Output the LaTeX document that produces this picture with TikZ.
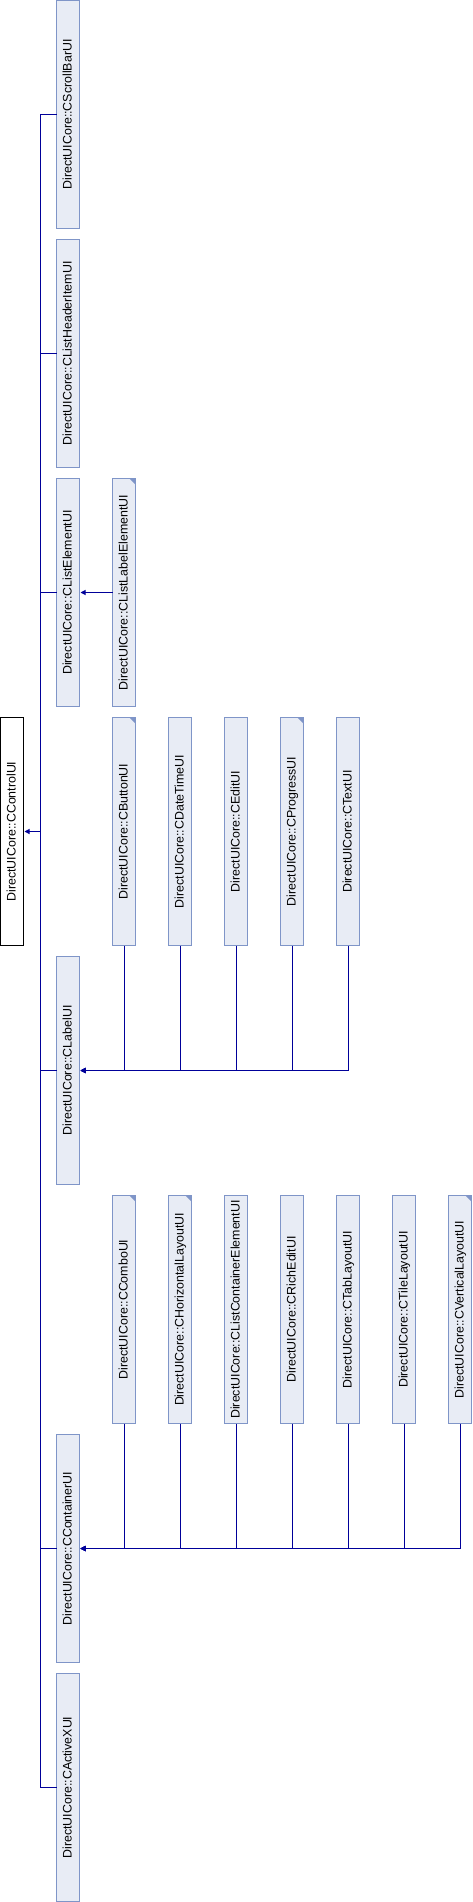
\documentclass[tikz,border=0pt]{standalone}
\usepackage{fontspec}
\setmainfont{Liberation Sans}
\usetikzlibrary{arrows.meta}
\definecolor{bcol}{HTML}{7F95C8}
\definecolor{fcol}{HTML}{E8ECF5}
\definecolor{lcol}{HTML}{000099}
\newcommand{\clsname}[1]{\rotatebox{90}{\raisebox{0pt}[9pt][1.6pt]{#1}}}
\begin{document}
\begin{tikzpicture}[x=1pt,y=-1pt,
  cbox/.style={draw=bcol, fill=fcol, line width=1pt, inner sep=0pt, outer sep=0pt,
    minimum width=23pt, minimum height=228pt, anchor=north west,
    font=\fontsize{12.4}{14}\selectfont},
  rootbox/.style={cbox, draw=black, fill=white},
  marked/.style={path picture={\fill[bcol] (path picture bounding box.north east) -- ++(-6pt,0pt) -- ++(6pt,-6pt) -- cycle;}},
  inh/.style={draw=lcol, line width=1pt},
  arr/.style={inh, -{Triangle[length=5pt,width=5pt]}, shorten >=1pt}
]
\useasboundingbox (0,0) rectangle (472,1902);

% root
\node[rootbox] (ctrl) at (0.5,717.5) {\clsname{DirectUICore::CControlUI}};

% column 1
\node[cbox] (sb)  at (56.5,0.5)    {\clsname{DirectUICore::CScrollBarUI}};
\node[cbox] (lhi) at (56.5,239.5)  {\clsname{DirectUICore::CListHeaderItemUI}};
\node[cbox] (le)  at (56.5,478.5)  {\clsname{DirectUICore::CListElementUI}};
\node[cbox] (lab) at (56.5,956.5)  {\clsname{DirectUICore::CLabelUI}};
\node[cbox] (con) at (56.5,1434.5) {\clsname{DirectUICore::CContainerUI}};
\node[cbox] (ax)  at (56.5,1673.5) {\clsname{DirectUICore::CActiveXUI}};

% column 2, row 2
\node[cbox,marked] (lle) at (112.5,478.5) {\clsname{DirectUICore::CListLabelElementUI}};

% row 3
\node[cbox,marked] (btn)  at (112.5,717.5) {\clsname{DirectUICore::CButtonUI}};
\node[cbox]        (dt)   at (168.5,717.5) {\clsname{DirectUICore::CDateTimeUI}};
\node[cbox]        (ed)   at (224.5,717.5) {\clsname{DirectUICore::CEditUI}};
\node[cbox,marked] (prog) at (280.5,717.5) {\clsname{DirectUICore::CProgressUI}};
\node[cbox]        (txt)  at (336.5,717.5) {\clsname{DirectUICore::CTextUI}};

% row 5
\node[cbox,marked] (cmb)  at (112.5,1195.5) {\clsname{DirectUICore::CComboUI}};
\node[cbox,marked] (hl)   at (168.5,1195.5) {\clsname{DirectUICore::CHorizontalLayoutUI}};
\node[cbox]        (lce)  at (224.5,1195.5) {\clsname{DirectUICore::CListContainerElementUI}};
\node[cbox]        (re)   at (280.5,1195.5) {\clsname{DirectUICore::CRichEditUI}};
\node[cbox]        (tab)  at (336.5,1195.5) {\clsname{DirectUICore::CTabLayoutUI}};
\node[cbox]        (tile) at (392.5,1195.5) {\clsname{DirectUICore::CTileLayoutUI}};
\node[cbox,marked] (vl)   at (448.5,1195.5) {\clsname{DirectUICore::CVerticalLayoutUI}};

% connectors to CControlUI
\coordinate (tr) at (40.5,831.5);
\foreach \c in {sb,lhi,le,lab,con,ax} {
  \draw[inh] (\c.west) -| (tr);
}
\draw[arr] (tr) -- (ctrl.east);

% CListLabelElementUI -> CListElementUI
\draw[arr] (lle.west) -- (le.east);

% children of CLabelUI
\foreach \c in {txt,prog,ed,dt,btn} {
  \draw[arr] (\c.south) |- (lab.east);
}

% children of CContainerUI
\foreach \c in {vl,tile,tab,re,lce,hl,cmb} {
  \draw[arr] (\c.south) |- (con.east);
}
\end{tikzpicture}
\end{document}
